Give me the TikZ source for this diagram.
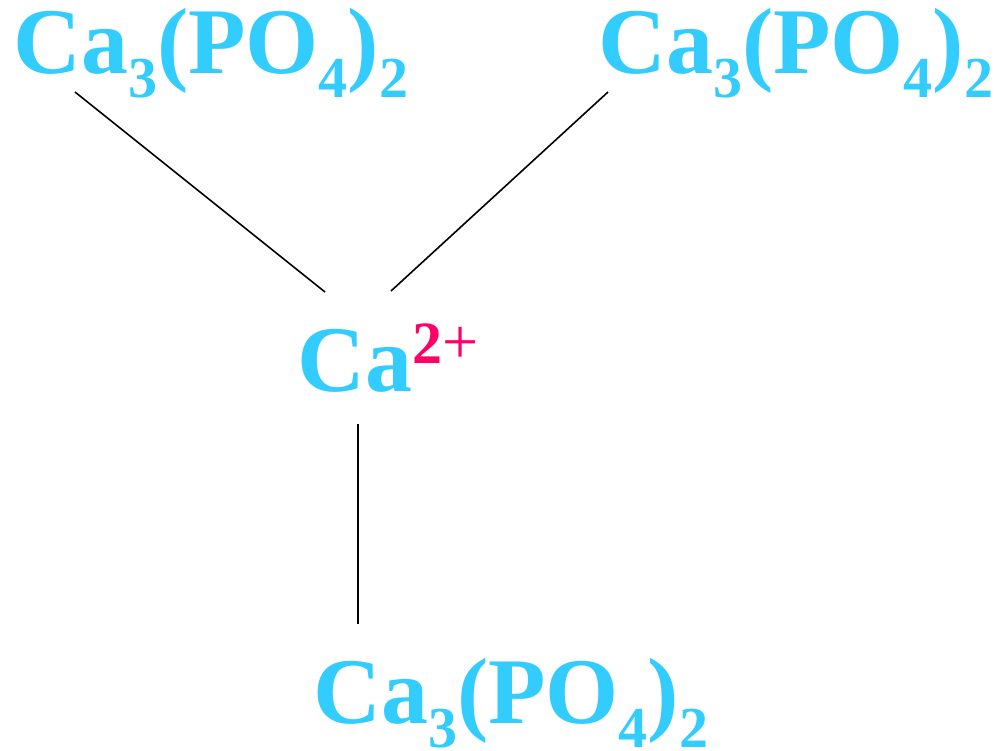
\documentclass[tikz,border=0pt]{standalone}
\usepackage{fontspec}
\setmainfont{Liberation Serif}
\usetikzlibrary{calc}
\definecolor{cyanf}{HTML}{33CCFF}
\definecolor{magf}{HTML}{FF0066}
\newcommand{\sbs}[1]{\raisebox{-24pt}{\fontsize{58}{58}\selectfont #1}}
\newcommand{\formula}{Ca\sbs{3}(PO\sbs{4})\sbs{2}}
\tikzset{
  chem/.style={inner sep=0pt, anchor=base west, text=cyanf, font=\fontsize{94}{94}\selectfont\bfseries},
  bond/.style={draw=black, line width=1.6pt}
}
\begin{document}
\begin{tikzpicture}[x=1pt,y=-1pt]
\useasboundingbox (0,0) rectangle (1003,751);
\node[chem] (tl) at (13,74) {\formula};
\node[chem] (tr) at (598,74) {\formula};
\node[chem] (bt) at (313,723) {\formula};
\node[chem] (ca) at (297,391) {Ca\raisebox{28pt}{\fontsize{60}{60}\selectfont\color{magf}2\mdseries\fontsize{64}{64}\selectfont+}};
\draw[bond] ($(tl.base west)+(62,18)$) -- ($(ca.base west)+(28,-99)$);
\draw[bond] ($(tr.base west)+(10,18)$) -- ($(ca.base west)+(94,-100)$);
\draw[bond] ($(ca.base west)+(61,33)$) -- ($(bt.base west)+(45,-99)$);
\end{tikzpicture}
\end{document}
